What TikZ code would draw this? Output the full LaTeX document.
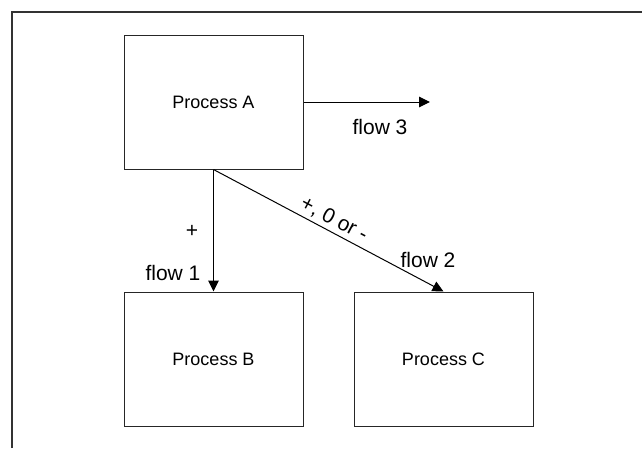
\documentclass[tikz,border=0pt]{standalone}
\usepackage{fontspec}
\setmainfont{Liberation Sans}
\usetikzlibrary{arrows.meta,positioning}

\tikzset{
  procbox/.style={draw=black!85,line width=1pt,minimum width=179pt,minimum height=134pt,
    inner sep=0,font=\fontsize{18}{20}\selectfont},
  flowlabel/.style={inner sep=0,font=\fontsize{21}{24}\selectfont},
  flowarrow/.style={black,line width=1pt,-{Triangle[length=11pt,width=10.5pt]}}
}

\begin{document}
\begin{tikzpicture}[x=1pt,y=-1pt]
    \useasboundingbox (0,0) rectangle (642,448);
    %FRAME
    \draw[black!80,line width=1.5pt] (12,448) -- (12,12) -- (642,12);
    %BOXES
    \node[procbox] (procA) at (213.5,102) {Process A};
    \node[procbox] (procB) at (213.5,359) {Process B};
    \node[procbox] (procC) at (443.5,359) {Process C};
    \coordinate (outA) at (430,102);
    %FLOWS
    \draw[flowarrow] (procA.east) -- (outA);
    \draw[flowarrow] (procA.south) -- (procB.north);
    \draw[flowarrow] (procA.south) -- (procC.north)
      node[flowlabel,sloped,pos=0.5,above=3pt] (signC) {+, 0 or -};
    %LABELS
    \node[flowlabel] (lblthree) at (380,127) {flow 3};
    \node[flowlabel] (signB) at (192,231) {+};
    \node[flowlabel] (lblone) at (173,273) {flow 1};
    \node[flowlabel] (lbltwo) at (428,260) {flow 2};
\end{tikzpicture}
\end{document}
